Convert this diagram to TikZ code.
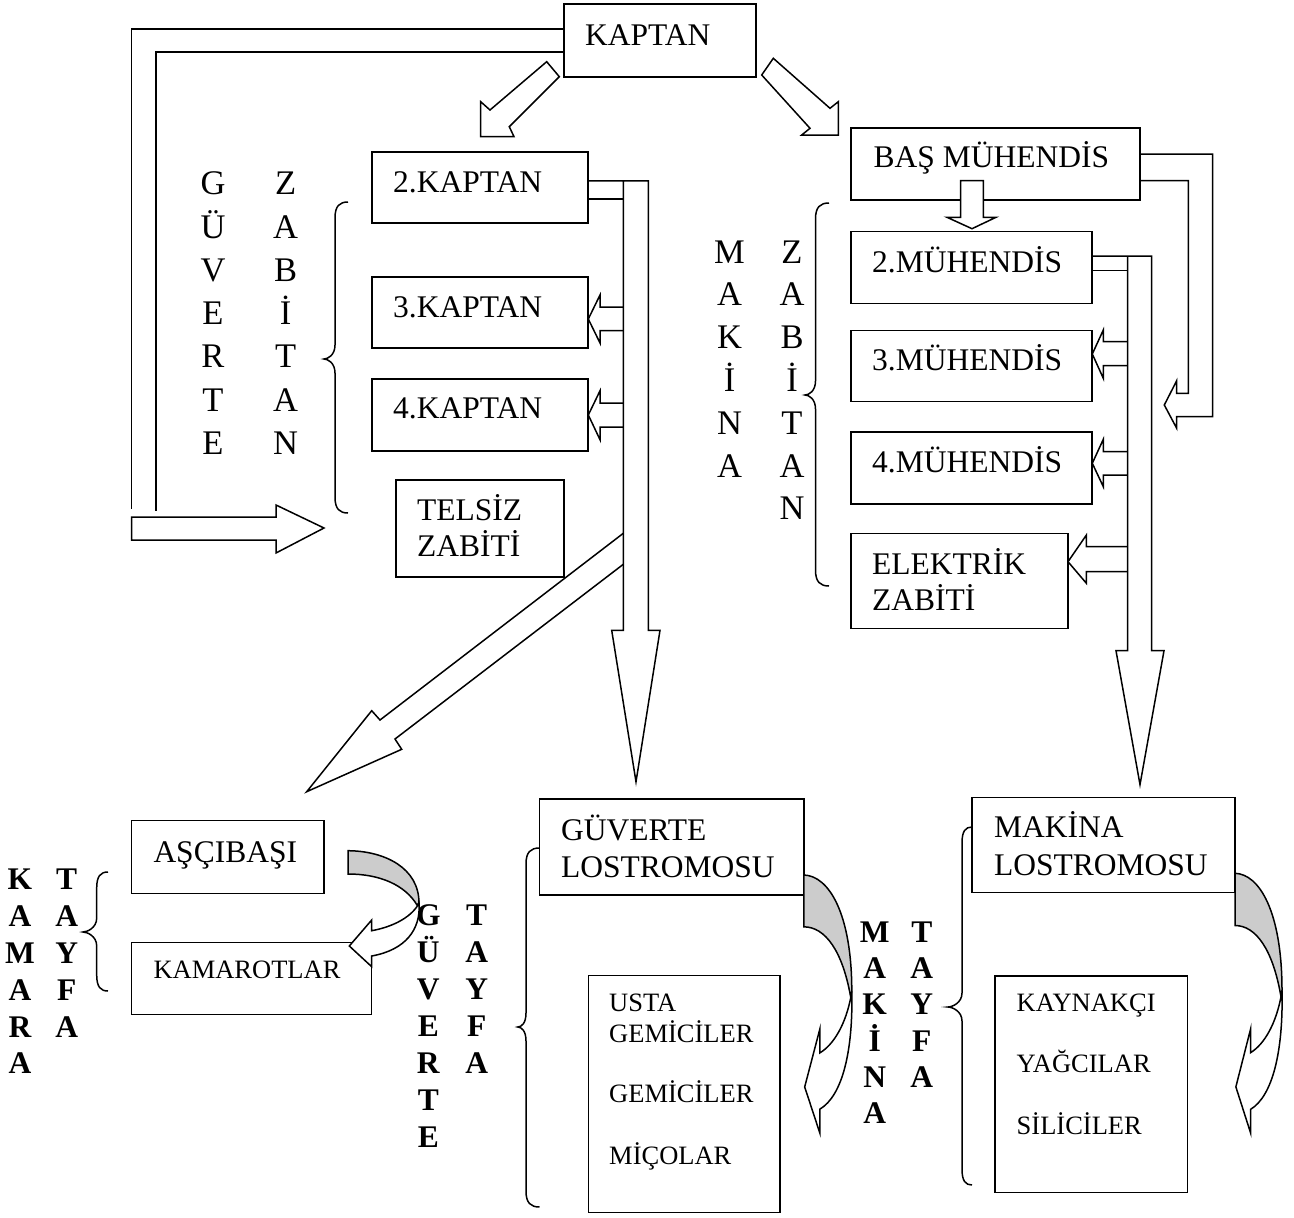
\documentclass[tikz,border=0pt]{standalone}
\usepackage{fontspec}
\setmainfont{Liberation Serif}
\newcommand{\mybrace}[6]{%
  \draw[ln] (#1,#4) .. controls ({#2+0.35*(#1-#2)},#4) and (#2,{#4+4}) .. (#2,{#4+16})
    -- (#2,{#5-14}) .. controls (#2,{#5-4}) and ({#3+4},#5) .. (#3,#5)
    .. controls ({#3+4},#5) and (#2,{#5+4}) .. (#2,{#5+14})
    -- (#2,{#6-16}) .. controls (#2,{#6-4}) and ({#2+0.35*(#1-#2)},#6) .. (#1,#6);}
\newcommand{\mycurvarrow}[4]{%
  \begin{scope}[shift={(#1,#2)},xscale=#3,yscale=#4]
    \draw[ln,fill=black!20] (0,0) .. controls (37,0.3) and (71,17.3) .. (71,52.3)
      -- (69,54.3) .. controls (57,34.3) and (32,23.3) .. (0,23.3) -- cycle;
    \draw[ln,fill=white] (71,52.3) .. controls (73,79.3) and (57,99.3) .. (23.7,105.3)
      -- (23.7,116) -- (1.3,95.3) -- (23.7,69.3) -- (23.7,80)
      .. controls (44,76.3) and (62,67.3) .. (70,54.3) -- cycle;
  \end{scope}}
\begin{document}
\begin{tikzpicture}[x=1pt,y=-1pt,
  ln/.style={line width=1.5pt,line join=miter},
  box/.style={draw,line width=1.5pt,fill=white,inner sep=0pt,outer sep=0pt,anchor=north west},
  txt/.style={anchor=base west,inner sep=0pt,font=\fontsize{31.5}{36}\selectfont},
  stxt/.style={anchor=base west,inner sep=0pt,font=\fontsize{26.5}{32}\selectfont},
  ltr/.style={anchor=base,inner sep=0pt,font=\fontsize{34.5}{40}\selectfont},
  bltr/.style={anchor=base,inner sep=0pt,font=\fontsize{31.5}{36}\selectfont\bfseries},
  barrow/.style={ln,draw,fill=white}]
\useasboundingbox[fill=white] (0,0) rectangle (1294,1218);

% ---- boxes ----
\node[box,minimum width=192pt,minimum height=73pt] (kaptan) at (564,4) {};
\node[box,minimum width=289pt,minimum height=72pt] (bas) at (851,128) {};
\node[box,minimum width=216pt,minimum height=71pt] (k2) at (372,152) {};
\node[box,minimum width=216pt,minimum height=71pt] (k3) at (372,277) {};
\node[box,minimum width=216pt,minimum height=72pt] (k4) at (372,379) {};
\node[box,minimum width=168pt,minimum height=97pt] (telsiz) at (396,480) {};
\node[box,minimum width=241pt,minimum height=71.6pt] (m2) at (851,231.7) {};
\node[box,minimum width=241pt,minimum height=71pt] (m3) at (851,330.7) {};
\node[box,minimum width=241pt,minimum height=72pt] (m4) at (851,432) {};
\node[box,minimum width=217pt,minimum height=95pt] (elek) at (851,533.3) {};
\node[box,minimum width=192.3pt,minimum height=72.6pt] (asci) at (131.7,820.7) {};
\node[box,minimum width=240pt,minimum height=72pt] (kamarot) at (131.7,942.3) {};
\node[box,minimum width=264.3pt,minimum height=96pt] (glost) at (539.5,799) {};
\node[box,minimum width=263pt,minimum height=95pt] (mlost) at (972,797.3) {};
\node[box,minimum width=191.4pt,minimum height=237pt] (usta) at (588.6,975.7) {};
\node[box,minimum width=192.6pt,minimum height=216.3pt] (kayn) at (995,976) {};

% ---- box texts ----
\node[txt] (t-kaptan) at (585,45.5) {KAPTAN};
\node[txt] (t-bas) at (873.5,167) {BAŞ MÜHENDİS};
\node[txt] (t-k2) at (393,192) {2.KAPTAN};
\node[txt] (t-k3) at (393,317) {3.KAPTAN};
\node[txt] (t-k4) at (393,418.5) {4.KAPTAN};
\node[txt] (t-tel1) at (417,520) {TELSİZ};
\node[txt] (t-tel2) at (417,556.5) {ZABİTİ};
\node[txt] (t-m2) at (872,272) {2.MÜHENDİS};
\node[txt] (t-m3) at (872,370.5) {3.MÜHENDİS};
\node[txt] (t-m4) at (872,472) {4.MÜHENDİS};
\node[txt] (t-el1) at (872,574) {ELEKTRİK};
\node[txt] (t-el2) at (872,610.5) {ZABİTİ};
\node[txt] (t-asci) at (153.3,862) {AŞÇIBAŞI};
\node[stxt] (t-kam) at (153.3,978.5) {KAMAROTLAR};
\node[txt] (t-gl1) at (561,840.5) {GÜVERTE};
\node[txt] (t-gl2) at (561,877) {LOSTROMOSU};
\node[txt] (t-ml1) at (994,837.5) {MAKİNA};
\node[txt] (t-ml2) at (994,875.5) {LOSTROMOSU};
\node[stxt] (t-u1) at (609,1011.5) {USTA};
\node[stxt] (t-u2) at (609,1042) {GEMİCİLER};
\node[stxt] (t-u3) at (609,1102) {GEMİCİLER};
\node[stxt] (t-u4) at (609,1164) {MİÇOLAR};
\node[stxt] (t-y1) at (1016.5,1011.5) {KAYNAKÇI};
\node[stxt] (t-y2) at (1016.5,1072) {YAĞCILAR};
\node[stxt] (t-y3) at (1016.5,1134) {SİLİCİLER};

% ---- vertical letter columns ----
\foreach \l [count=\i] in {G,Ü,V,E,R,T,E}
  \node[ltr] (gz-a\i) at (213,{194.7+(\i-1)*43.3}) {\l};
\foreach \l [count=\i] in {Z,A,B,İ,T,A,N}
  \node[ltr] (gz-b\i) at (285.6,{194.7+(\i-1)*43.3}) {\l};
\foreach \l [count=\i] in {M,A,K,İ,N,A}
  \node[ltr] (mz-a\i) at (729.5,{263.1+(\i-1)*42.8}) {\l};
\foreach \l [count=\i] in {Z,A,B,İ,T,A,N}
  \node[ltr] (mz-b\i) at (792,{263.1+(\i-1)*42.8}) {\l};
\foreach \l [count=\i] in {K,A,M,A,R,A}
  \node[bltr] (kt-a\i) at (20,{889.4+(\i-1)*36.9}) {\l};
\foreach \l [count=\i] in {T,A,Y,F,A}
  \node[bltr] (kt-b\i) at (66.7,{889.4+(\i-1)*36.9}) {\l};
\foreach \l [count=\i] in {G,Ü,V,E,R,T,E}
  \node[bltr] (gt-a\i) at (428.3,{925.4+(\i-1)*36.95}) {\l};
\foreach \l [count=\i] in {T,A,Y,F,A}
  \node[bltr] (gt-b\i) at (476.7,{925.4+(\i-1)*36.95}) {\l};
\foreach \l [count=\i] in {M,A,K,İ,N,A}
  \node[bltr] (mt-a\i) at (874.7,{942.1+(\i-1)*36.3}) {\l};
\foreach \l [count=\i] in {T,A,Y,F,A}
  \node[bltr] (mt-b\i) at (921.8,{942.1+(\i-1)*36.3}) {\l};

% ---- braces ----
\mybrace{348}{335}{324}{202}{359}{513}
\mybrace{829}{815.5}{805}{203}{395}{586}
\mybrace{108}{96.7}{83}{872}{932}{991}
\mybrace{539.5}{526}{517.7}{848}{1027}{1207}
\mybrace{972}{962}{948}{827}{1007}{1185}

% ---- KAPTAN connectors ----
\draw[ln] (564,29) -- (131.7,29) -- (131.7,509);
\draw[ln] (564,52) -- (156,52) -- (156,511);
\draw[barrow] (131.7,517) -- (276,517) -- (276,505) -- (324,528) -- (276,553) -- (276,540) -- (131.7,540) -- cycle;
\draw[barrow] (546.7,61.7) -- (490,110) -- (480.7,101.7) -- (480.7,136.7) -- (514,136.7) -- (509.3,126.7) -- (559.3,76.7) -- cycle;
\draw[barrow] (773.3,58.3) -- (830,108.3) -- (838.3,101.7) -- (838.3,135) -- (801.7,135) -- (810,128.3) -- (761.7,75) -- cycle;

% ---- 2.KAPTAN bar ----
\draw[ln] (588.3,180.8) -- (648.3,180.8) -- (648.3,630.3) -- (660,630.3) -- (636,781.8) -- (611.7,630.3) -- (623.3,630.3) -- (623.3,180.8);
\draw[ln] (588.3,199) -- (623.3,199);
\draw[ln] (623.3,307) -- (600,307) -- (600,295) -- (588.3,319) -- (600,343) -- (600,330.7) -- (623.3,330.7);
\draw[ln] (623.3,403) -- (600,403) -- (600,390.8) -- (588.3,415) -- (600,439.7) -- (600,427) -- (623.3,427);
\draw[ln] (623.3,533.3) -- (380,720) -- (371.7,710.7) -- (306.7,791.7) -- (401.7,749.3) -- (395,739) -- (623.3,564.3);

% ---- BAŞ MÜHENDİS connectors ----
\draw[barrow] (960.6,180.7) -- (983.3,180.7) -- (983.3,217.3) -- (996,217.3) -- (972,228.7) -- (947,217.3) -- (960.6,217.3) -- cycle;
\draw[ln] (1140,154) -- (1212.7,154) -- (1212.7,416.7) -- (1176.7,416.7) -- (1176.7,428.3) -- (1164.3,405) -- (1176.7,380.7) -- (1176.7,393.3) -- (1188.3,393.3) -- (1188.3,180.7) -- (1140,180.7);

% ---- 2.MÜHENDİS bar ----
\draw[ln] (1092,256) -- (1151.7,256) -- (1151.7,650.7) -- (1164,650.7) -- (1140,784.6) -- (1116,650.7) -- (1127.7,650.7) -- (1127.7,256);
\draw[ln] (1092,270.7) -- (1127.7,270.7);
\draw[ln] (1127.7,341.7) -- (1103.3,341.7) -- (1103.3,330) -- (1092.3,354) -- (1103.3,378.3) -- (1103.3,365.7) -- (1127.7,365.7);
\draw[ln] (1127.7,451.7) -- (1103.3,451.7) -- (1103.3,439.3) -- (1092.3,463.3) -- (1103.3,486.7) -- (1103.3,475) -- (1127.7,475);
\draw[ln] (1127.7,546.7) -- (1086.4,546.7) -- (1086.4,535) -- (1068,561.7) -- (1086.4,583.3) -- (1086.4,571.7) -- (1127.7,571.7);

% ---- curved arrows ----
\mycurvarrow{348}{850.7}{1}{1}
\mycurvarrow{803.8}{875}{0.676}{2.224}
\mycurvarrow{1235}{873.3}{0.662}{2.241}
\end{tikzpicture}
\end{document}
